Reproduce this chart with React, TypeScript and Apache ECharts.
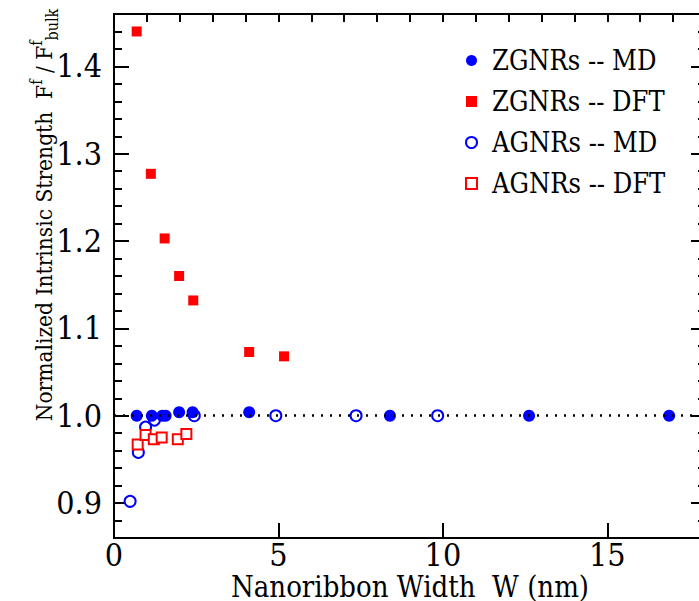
import React, { useEffect, useRef } from "react";
import * as echarts from "echarts";

// ---- data (width in nm, normalized strength) ----
const zgnrMD: [number, number][] = [
  [0.69, 1.0], [1.15, 1.0], [1.47, 1.0], [1.57, 1.0], [1.98, 1.004],
  [2.39, 1.004], [4.11, 1.004], [8.39, 1.0], [12.62, 1.0], [16.88, 1.0],
];
const zgnrDFT: [number, number][] = [
  [0.69, 1.44], [1.12, 1.277], [1.54, 1.203], [1.98, 1.16], [2.41, 1.132],
  [4.11, 1.073], [5.17, 1.068],
];
const agnrMD: [number, number][] = [
  [0.49, 0.902], [0.74, 0.958], [0.96, 0.987], [1.23, 0.995], [2.44, 1.0],
  [4.92, 1.0], [7.36, 1.0], [9.84, 1.0],
];
const agnrDFT: [number, number][] = [
  [0.72, 0.967], [0.96, 0.978], [1.21, 0.973], [1.45, 0.975], [1.94, 0.973],
  [2.2, 0.979],
];
const seriesNames = ["ZGNRs -- MD", "ZGNRs -- DFT", "AGNRs -- MD", "AGNRs -- DFT"];
const xRange = { min: 0, max: 18, major: 5, minor: 1 };
const yRange = { min: 0.86, max: 1.46, minor: 0.02 };
// y tick positions (every 0.02), labelled at every 0.1
const yTicks: string[] = Array.from(
  { length: Math.round((yRange.max - yRange.min) / yRange.minor) + 1 },
  (_, i) => (yRange.min + i * yRange.minor).toFixed(2)
);
const referenceLevel = 1.0;
const xTitle = "Nanoribbon Width  W (nm)";

const FONT = "DejaVu Serif Condensed";
const BLUE = "#0000ff";
const RED = "#ff0000";

const isMajor = (_i: number, v: string) => {
  const n = parseFloat(v) * 10;
  return Math.abs(n - Math.round(n)) < 1e-6;
};

export default function App() {
  const ref = useRef<HTMLDivElement>(null);
  useEffect(() => {
    if (!ref.current) return;
    const chart = echarts.init(ref.current, undefined, { renderer: "svg" });
    const tickStyle = { color: "#000", width: 2 };
    const xBase = {
      type: "value" as const,
      min: xRange.min,
      max: xRange.max,
      splitLine: { show: false },
      axisLine: { show: false },
      gridIndex: 0,
    };
    const yCatBase = {
      type: "category" as const,
      data: yTicks,
      boundaryGap: false,
      splitLine: { show: false },
      axisLine: { show: false },
      gridIndex: 0,
    };
    chart.setOption({
      animation: false,
      backgroundColor: "#fff",
      grid: {
        left: 114,
        top: 14,
        width: 592,
        height: 524,
        show: true,
        borderColor: "#000",
        borderWidth: 2,
        backgroundColor: "transparent",
        containLabel: false,
        outerBoundsMode: "none",
      },
      xAxis: [
        {
          ...xBase,
          interval: xRange.major,
          axisTick: { inside: true, length: 15, lineStyle: tickStyle },
          axisLabel: {
            show: true,
            showMaxLabel: false,
            margin: 3,
            fontFamily: FONT,
            fontSize: 32,
            lineHeight: 28,
            color: "#000",
          },
        },
        {
          ...xBase,
          interval: xRange.minor,
          axisTick: { inside: true, length: 8, lineStyle: tickStyle },
          axisLabel: { show: false },
        },
      ],
      yAxis: [
        {
          type: "value",
          min: yRange.min,
          max: yRange.max,
          splitLine: { show: false },
          axisLine: { show: false },
          axisTick: { show: false },
          axisLabel: { show: false },
        },
        {
          ...yCatBase,
          position: "left",
          axisTick: { inside: true, length: 15, lineStyle: tickStyle, interval: isMajor },
          axisLabel: {
            show: true,
            interval: isMajor,
            margin: 12,
            fontFamily: FONT,
            fontSize: 32,
            color: "#000",
            formatter: (v: string) => parseFloat(v).toFixed(1),
          },
        },
        {
          ...yCatBase,
          position: "left",
          axisTick: { inside: true, length: 8, lineStyle: tickStyle, interval: 0 },
          axisLabel: { show: false },
        },
        {
          ...yCatBase,
          position: "right",
          axisTick: { inside: true, length: 15, lineStyle: tickStyle, interval: isMajor },
          axisLabel: { show: false },
        },
        {
          ...yCatBase,
          position: "right",
          axisTick: { inside: true, length: 8, lineStyle: tickStyle, interval: 0 },
          axisLabel: { show: false },
        },
      ],
      legend: {
        data: seriesNames,
        orient: "vertical",
        left: 460,
        top: 42,
        itemWidth: 11,
        itemHeight: 11,
        itemGap: 14,
        textStyle: {
          fontFamily: FONT,
          fontSize: 27,
          color: "#000",
          padding: [0, 0, 0, 10],
        },
      },
      series: [
        {
          name: seriesNames[2],
          type: "scatter",
          data: agnrMD,
          symbol: "emptyCircle",
          symbolSize: 11,
          itemStyle: { color: BLUE, borderColor: BLUE, borderWidth: 2, opacity: 1 },
          z: 2,
        },
        {
          name: seriesNames[3],
          type: "scatter",
          data: agnrDFT,
          symbol: "emptyRect",
          symbolSize: 10,
          itemStyle: { color: RED, borderColor: RED, borderWidth: 2, opacity: 1 },
          z: 2,
        },
        {
          name: seriesNames[0],
          type: "scatter",
          data: zgnrMD,
          symbol: "circle",
          symbolSize: 12,
          itemStyle: { color: BLUE, opacity: 1 },
          z: 3,
        },
        {
          name: seriesNames[1],
          type: "scatter",
          data: zgnrDFT,
          symbol: "rect",
          symbolSize: 10,
          itemStyle: { color: RED, opacity: 1 },
          z: 3,
          markLine: {
            silent: true,
            symbol: "none",
            label: { show: false },
            lineStyle: { color: "#000", width: 2.5, type: [2, 7], opacity: 1 },
            data: [{ yAxis: referenceLevel }],
          },
        },
      ],
      graphic: [
        {
          type: "text",
          x: 410,
          y: 587,
          style: {
            text: xTitle,
            align: "center",
            verticalAlign: "middle",
            fontFamily: FONT,
            fontSize: 29,
            lineHeight: 26,
            fill: "#000",
          },
        },
        {
          type: "text",
          x: 44,
          y: 215,
          rotation: Math.PI / 2,
          style: {
            text: "{m|Normalized Intrinsic Strength  F}{sup|f}{m| / F}{sup|f}{sub|bulk}",
            align: "center",
            verticalAlign: "middle",
            fill: "#000",
            rich: {
              m: { fontFamily: FONT, fontSize: 22.5, lineHeight: 32, fill: "#000", verticalAlign: "middle" },
              sup: { fontFamily: FONT, fontSize: 16, lineHeight: 16, fill: "#000", verticalAlign: "top" },
              sub: { fontFamily: FONT, fontSize: 16, lineHeight: 16, fill: "#000", verticalAlign: "bottom" },
            },
          },
        },
      ],
    });
    return () => chart.dispose();
  }, []);
  return (
    <div
      ref={ref}
      style={{ position: "absolute", left: 0, top: 0, width: 699, height: 601 }}
    />
  );
}
